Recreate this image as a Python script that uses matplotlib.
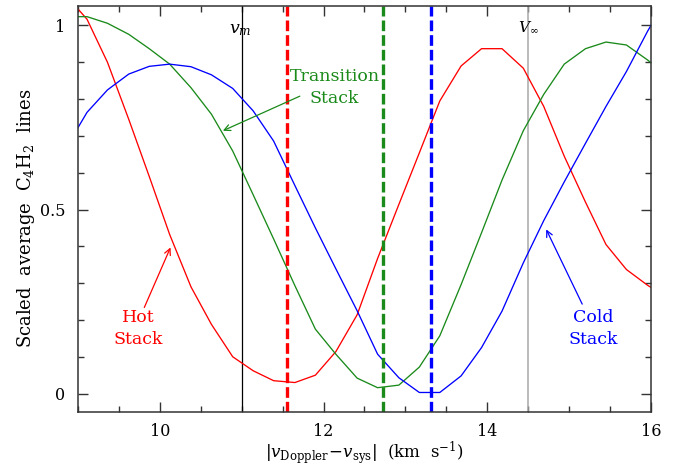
import matplotlib
matplotlib.use('Agg')
import matplotlib.pyplot as plt
from matplotlib.ticker import MultipleLocator

plt.rcParams['font.family'] = 'DejaVu Serif'
plt.rcParams['mathtext.fontset'] = 'dejavuserif'

# velocity grid of the stacked spectra (km/s)
vel = [8.86, 9.11, 9.36, 9.62, 9.87, 10.12, 10.38, 10.63, 10.89, 11.14,
       11.39, 11.65, 11.90, 12.15, 12.41, 12.66, 12.92, 13.17, 13.42, 13.68,
       13.93, 14.18, 14.44, 14.69, 14.94, 15.20, 15.45, 15.70, 15.96, 16.21]

hot = [1.08, 1.017, 0.900, 0.745, 0.590, 0.432, 0.290, 0.188, 0.100, 0.062,
       0.035, 0.030, 0.050, 0.114, 0.214, 0.367, 0.514, 0.654, 0.795, 0.890,
       0.937, 0.937, 0.884, 0.780, 0.645, 0.520, 0.405, 0.337, 0.294, 0.26]

trans = [1.024, 1.024, 1.006, 0.976, 0.937, 0.895, 0.831, 0.759, 0.659, 0.540,
         0.420, 0.293, 0.175, 0.107, 0.042, 0.016, 0.023, 0.072, 0.157, 0.296,
         0.437, 0.580, 0.714, 0.813, 0.895, 0.937, 0.955, 0.947, 0.906, 0.86]

cold = [0.67, 0.764, 0.825, 0.868, 0.889, 0.895, 0.888, 0.866, 0.829, 0.768,
        0.686, 0.565, 0.450, 0.339, 0.225, 0.107, 0.043, 0.003, 0.003, 0.048,
        0.125, 0.224, 0.355, 0.470, 0.575, 0.680, 0.780, 0.875, 0.985, 1.08]

# characteristic velocities
v_m = 11.0
v_inf = 14.5
v_hot, v_trans, v_cold = 11.55, 12.72, 13.31

red = '#ff0000'
green = '#1a8a1a'
blue = '#0000ff'

fig = plt.figure(figsize=(6.76, 4.67), dpi=100)
ax = fig.add_axes([0.1154, 0.1178, 0.8476, 0.8694])

ax.axvline(v_m, color='black', lw=0.9)
ax.axvline(v_inf, color='#a8a8a8', lw=1.1)

ax.plot(vel, hot, color=red, lw=0.95)
ax.plot(vel, trans, color=green, lw=0.95)
ax.plot(vel, cold, color=blue, lw=0.95)

for v, c in [(v_hot, red), (v_trans, green), (v_cold, blue)]:
    ax.axvline(v, color=c, lw=2.4, dashes=(3.2, 1.2))

ax.text(v_m - 0.02, 0.99, r'$v_m$', ha='center', va='center', fontsize=12.5)
ax.text(v_inf, 0.995, r'$V_\infty$', ha='center', va='center', fontsize=11)

# labels with arrows
arr = dict(arrowstyle='->', lw=0.9, shrinkA=0, shrinkB=0, mutation_scale=11)
fs = 12.5
ax.text(12.135, 0.862, 'Transition', color=green, ha='center', va='center', fontsize=fs)
ax.text(12.135, 0.802, 'Stack', color=green, ha='center', va='center', fontsize=fs)
ax.annotate('', xy=(10.77, 0.714), xytext=(11.71, 0.808),
            arrowprops=dict(arr, color=green))

ax.text(9.74, 0.207, 'Hot', color=red, ha='center', va='center', fontsize=fs)
ax.text(9.74, 0.148, 'Stack', color=red, ha='center', va='center', fontsize=fs)
ax.annotate('', xy=(10.13, 0.397), xytext=(9.81, 0.234),
            arrowprops=dict(arr, color=red))

ax.text(15.29, 0.206, 'Cold', color=blue, ha='center', va='center', fontsize=fs)
ax.text(15.29, 0.147, 'Stack', color=blue, ha='center', va='center', fontsize=fs)
ax.annotate('', xy=(14.72, 0.446), xytext=(15.16, 0.243),
            arrowprops=dict(arr, color=blue))

ax.set_xlim(9, 16)
ax.set_ylim(-0.05, 1.053)
ax.xaxis.set_major_locator(MultipleLocator(2))
ax.xaxis.set_minor_locator(MultipleLocator(0.5))
ax.yaxis.set_minor_locator(MultipleLocator(0.1))
ax.set_yticks([0, 0.5, 1])
ax.set_yticklabels(['0', '0.5', '1'])

ax.tick_params(which='both', direction='in', top=True, right=True,
               labelsize=11.5, color='#333333')
ax.tick_params(which='major', length=7.5, width=1.0)
ax.tick_params(axis='x', which='major', pad=8)
ax.tick_params(axis='y', which='major', pad=9)
ax.tick_params(which='minor', length=4.5, width=1.0)
for s in ax.spines.values():
    s.set_linewidth(1.1)
    s.set_color('#333333')

ax.set_xlabel(r'$|v_{\rm Doppler}\!-\!v_{\rm sys}|$  (km  s$^{-1}$)', fontsize=12)
ax.set_ylabel(r'Scaled  average  C$_4$H$_2$  lines', fontsize=13)
ax.xaxis.set_label_coords(0.5, -0.069)
ax.yaxis.set_label_coords(-0.072, 0.478)

fig.savefig('out.png', dpi=100)
